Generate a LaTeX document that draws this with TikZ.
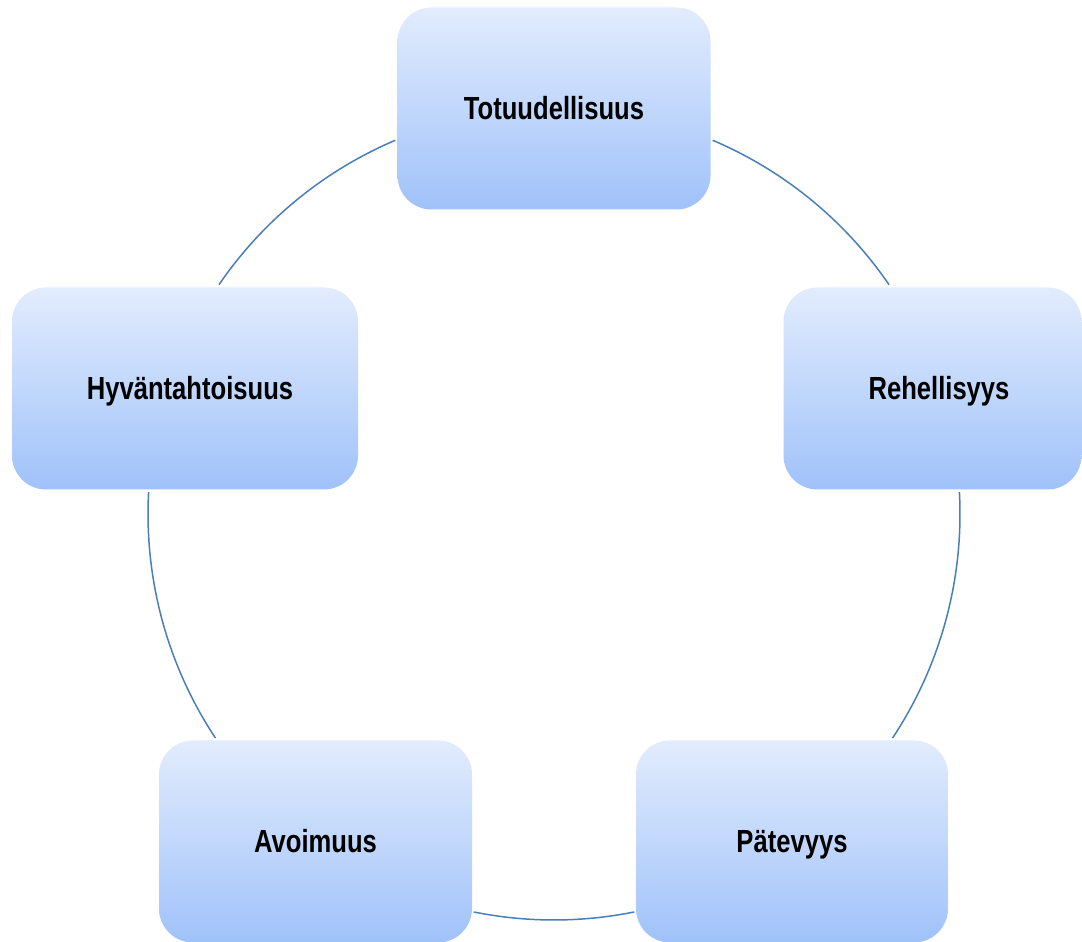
\documentclass[tikz,border=0pt]{standalone}
\usepackage{fontspec}
\setmainfont{Liberation Sans}[FakeStretch=0.8]
\usetikzlibrary{calc}
\definecolor{linec}{HTML}{4A7EBB}
\definecolor{boxtop}{HTML}{E2ECFD}
\definecolor{boxbot}{HTML}{A0C2FA}
\tikzset{
  box/.style={rectangle, rounded corners=34pt, top color=boxtop, bottom color=boxbot,
    draw=none, minimum height=202pt, text height=23pt, text depth=0pt, inner sep=0pt,
    font=\fontsize{32}{38}\selectfont\bfseries, text=black},
  conn/.style={draw=linec, line width=1.5pt}
}
\begin{document}
\begin{tikzpicture}[x=1pt,y=1pt]
\useasboundingbox (0,0) rectangle (1082,942);
\coordinate (ctr) at (554,428);
% connectors (arcs of the cycle)
\draw[conn] ([shift={(67:406)}]ctr) arc[start angle=67, end angle=34.4, radius=406];
\draw[conn] ([shift={(3.1:406)}]ctr) arc[start angle=3.1, end angle=-33.5, radius=406];
\draw[conn] ([shift={(-78.6:406)}]ctr) arc[start angle=-78.6, end angle=-101.4, radius=406];
\draw[conn] ([shift={(213.5:406)}]ctr) arc[start angle=213.5, end angle=176.9, radius=406];
\draw[conn] ([shift={(145.6:406)}]ctr) arc[start angle=145.6, end angle=113, radius=406];
% boxes
\node[box, minimum width=313pt] (tot) at (554,833.5) {Totuudellisuus};
\node[box, minimum width=298pt] (reh) at (932.5,553.5) {\hspace*{13pt}Rehellisyys};
\node[box, minimum width=346pt] (hyv) at (185,553.5) {\hspace*{10pt}Hyväntahtoisuus};
\node[box, minimum width=313pt] (avo) at (315.5,100.5) {Avoimuus};
\node[box, minimum width=312pt] (pat) at (792,100.5) {Pätevyys};
\end{tikzpicture}
\end{document}
